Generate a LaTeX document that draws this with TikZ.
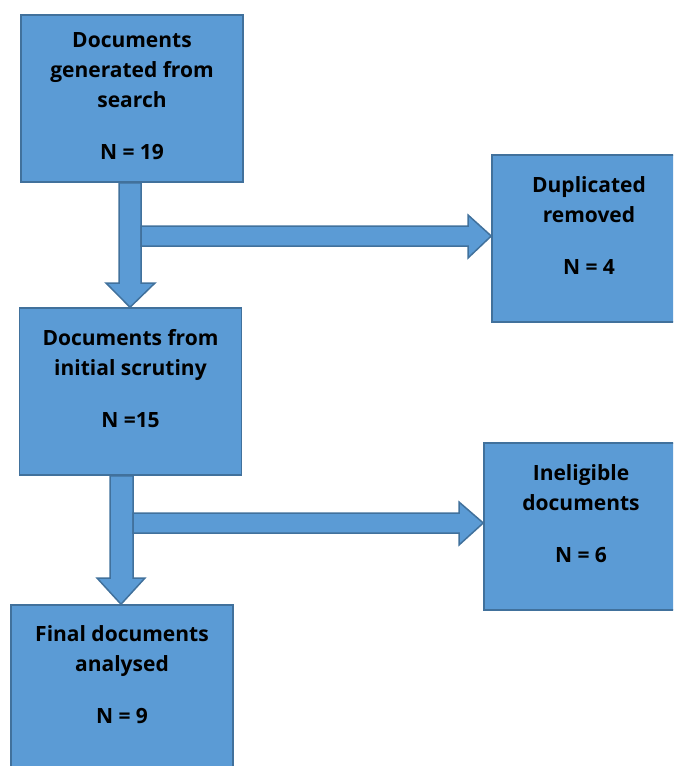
\documentclass[tikz,border=0pt]{standalone}
\usepackage{fontspec}
\setmainfont{Open Sans}
\usetikzlibrary{positioning}
\definecolor{boxfill}{HTML}{5B9BD5}
\definecolor{boxline}{HTML}{41719C}
\begin{document}
\begin{tikzpicture}
[x=1pt,y=-1pt,
 box/.style={shape=rectangle,draw=boxline,fill=boxfill,line width=1.5pt,
   minimum width=222pt,minimum height=167pt,inner sep=0pt},
 boxtext/.style={align=center,inner sep=0pt,anchor=base,
   font=\fontsize{21}{30}\selectfont\bfseries},
 flow/.style={draw=boxline,fill=boxfill,line width=1.5pt,line join=miter}]

\clip (0,0) rectangle (673,766);

\node (search) [box] at (132,98.5) {};
\node (scrutiny) [box] at (130.5,391.5) {};
\node (dup) [box] at (603,238.5) {};
\node (inelig) [box] at (595,526.5) {};
\node (final) [box] at (122,688.5) {};

% texts sit on the baseline of their last line
\node (searchtxt) [boxtext] at ([yshift=-145pt]search.north)
	{Documents\\generated from\\search\\[22pt]N = 19};
\node (scrutinytxt) [boxtext] at ([yshift=-120pt]scrutiny.north)
	{Documents from\\initial scrutiny\\[22pt]N =15};
\node (duptxt) [boxtext] at ([yshift=-120pt]dup.north -| 589,0)
	{Duplicated\\removed\\[22pt]N = 4};
\node (ineligtxt) [boxtext] at ([yshift=-120pt]inelig.north -| 581,0)
	{Ineligible\\documents\\[22pt]N = 6};
\node (finaltxt) [boxtext] at ([yshift=-119pt]final.north)
	{Final documents\\analysed\\[22pt]N = 9};

% first step
\draw [flow] (119,0 |- search.south) -- (141,0 |- search.south) -- (141,283)
	-- (155,283) -- (130,0 |- scrutiny.north) -- (106,283) -- (119,283) -- cycle;
\draw [flow] (141,226) -- (468,226) -- (468,215) -- (dup.west |- 0,236)
	-- (468,258) -- (468,246) -- (141,246) -- cycle;

% second step
\draw [flow] (110,0 |- scrutiny.south) -- (133,0 |- scrutiny.south) -- (133,578)
	-- (145,578) -- (121,0 |- final.north) -- (97,578) -- (110,578) -- cycle;
\draw [flow] (133,513) -- (459,513) -- (459,502) -- (inelig.west |- 0,523)
	-- (459,545) -- (459,533) -- (133,533) -- cycle;

\end{tikzpicture}
\end{document}
